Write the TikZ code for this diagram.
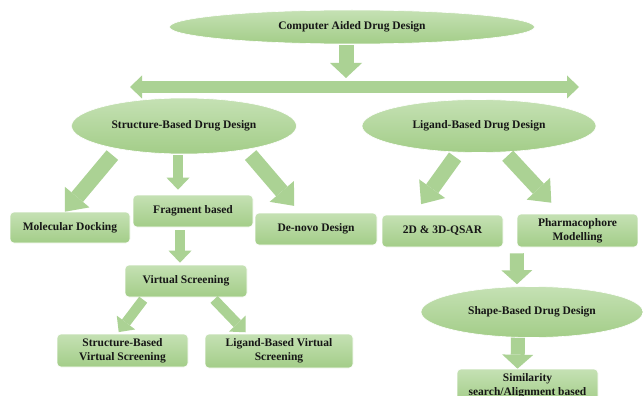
\documentclass[tikz,border=0pt]{standalone}
\usepackage{fontspec}
\setmainfont{Liberation Serif}
\usepackage{xcolor}
\definecolor{cadFillTop}{RGB}{197,225,180}
\definecolor{cadFillBot}{RGB}{163,205,136}
\definecolor{cadArrow}{RGB}{171,210,148}
\definecolor{cadText}{RGB}{22,22,22}
\usepackage{tikz}
\usetikzlibrary{arrows.meta,shapes.geometric}

\begin{document}
\begin{tikzpicture}[x=1pt, y=-1pt,
    cadshape/.style={draw=white, line width=0.6pt, top color=cadFillTop,
      bottom color=cadFillBot, inner sep=0pt, align=center, text=cadText,
      font=\bfseries\fontsize{11.5}{14}\selectfont},
    oval/.style={cadshape, ellipse},
    box/.style={cadshape, rectangle, rounded corners=4pt},
    bigarrow/.style={draw=cadArrow, line width=15pt,
      -{Triangle[length=15pt,width=32pt,line width=0pt]}},
    busarrow/.style={draw=cadArrow, line width=12pt,
      {Triangle[length=12pt,width=23pt,line width=0pt]}-{Triangle[length=12pt,width=23pt,line width=0pt]}},
    midarrow/.style={draw=cadArrow, line width=15pt,
      -{Triangle[length=19pt,width=32pt,line width=0pt]}},
    downarrow/.style={draw=cadArrow, line width=14pt,
      -{Triangle[length=14pt,width=31pt,line width=0pt]}},
    smallarrow/.style={draw=cadArrow, line width=10pt,
      -{Triangle[length=12pt,width=23pt,line width=0pt]}}
  ]
    \clip (0,0) rectangle (643,396);
    \fill[white] (0,0) rectangle (643,396);

    \node[oval, minimum width=365pt, minimum height=34pt] (cadd) at (352,27) {Computer Aided Drug Design};
    \node[oval, minimum width=225pt, minimum height=56pt] (sbdd) at (184,126) {Structure-Based Drug Design};
    \node[oval, minimum width=234pt, minimum height=53pt] (lbdd) at (479,126) {Ligand-Based Drug Design};

    \node[box, minimum width=120pt, minimum height=31pt] (dock) at (70,227.5) {Molecular Docking};
    \node[box, minimum width=120pt, minimum height=32pt] (frag) at (193,211) {Fragment based};
    \node[box, minimum width=122pt, minimum height=32pt] (denovo) at (316,229) {De-novo Design};
    \node[box, minimum width=122pt, minimum height=32pt] (vscreen) at (186,281) {Virtual Screening};
    \node[box, minimum width=131pt, minimum height=33pt] (sbvs) at (122.5,350.5) {Structure-Based\\Virtual Screening};
    \node[box, minimum width=148pt, minimum height=34pt] (lbvs) at (279,351) {Ligand-Based Virtual\\Screening};

    \node[box, minimum width=121pt, minimum height=32pt] (qsar) at (442.5,231) {2D \& 3D-QSAR};
    \node[box, minimum width=121pt, minimum height=33pt] (pharm) at (577.5,230.5) {Pharmacophore\\Modelling};
    \node[oval, minimum width=222pt, minimum height=51pt] (shape) at (532,312) {Shape-Based Drug Design};
    \node[box, minimum width=141pt, minimum height=34pt] (simil) at (527.5,386) {Similarity\\search/Alignment based};

    \coordinate (busL) at (130,87);
    \coordinate (busR) at (579,87);
    \coordinate (busM) at (346,87);

    \draw[busarrow] (busL) -- (busR);
    \draw[bigarrow, shorten <=1pt, shorten >=9pt] ([xshift=-6pt]cadd.south) -- (busM);

    \draw[midarrow, shorten <=1pt] ([xshift=-71pt]sbdd.south) -- ([xshift=-5pt]dock.north);
    \draw[smallarrow, shorten <=1pt, shorten >=5pt] ([xshift=-6pt]sbdd.south) -- ([xshift=-15pt]frag.north);
    \draw[midarrow, shorten <=1pt, shorten >=9pt] ([xshift=66pt]sbdd.south) -- ([xshift=-16pt]denovo.north);
    \draw[smallarrow, shorten <=3pt, shorten >=2pt] ([xshift=-13pt]frag.south) -- ([xshift=-6pt]vscreen.north);
    \draw[smallarrow, shorten <=3pt, shorten >=2pt] ([xshift=-41pt]vscreen.south) -- ([xshift=-5pt]sbvs.north);
    \draw[smallarrow, shorten <=3pt, shorten >=2pt] ([xshift=26pt]vscreen.south) -- ([xshift=-32pt]lbvs.north);

    \draw[midarrow, shorten <=5pt, shorten >=13pt] ([xshift=-21pt]lbdd.south) -- ([xshift=-29pt]qsar.north);
    \draw[midarrow, shorten <=4pt, shorten >=15pt] ([xshift=26pt]lbdd.south) -- ([xshift=-16pt]pharm.north);
    \draw[downarrow, shorten <=6pt, shorten >=2pt] ([xshift=0pt]pharm.south west) -- ([xshift=-15pt]shape.north);
    \draw[downarrow, shorten <=0pt, shorten >=0pt] ([xshift=-14pt]shape.south) -- ([xshift=-10pt]simil.north);
  \end{tikzpicture}
\end{document}
